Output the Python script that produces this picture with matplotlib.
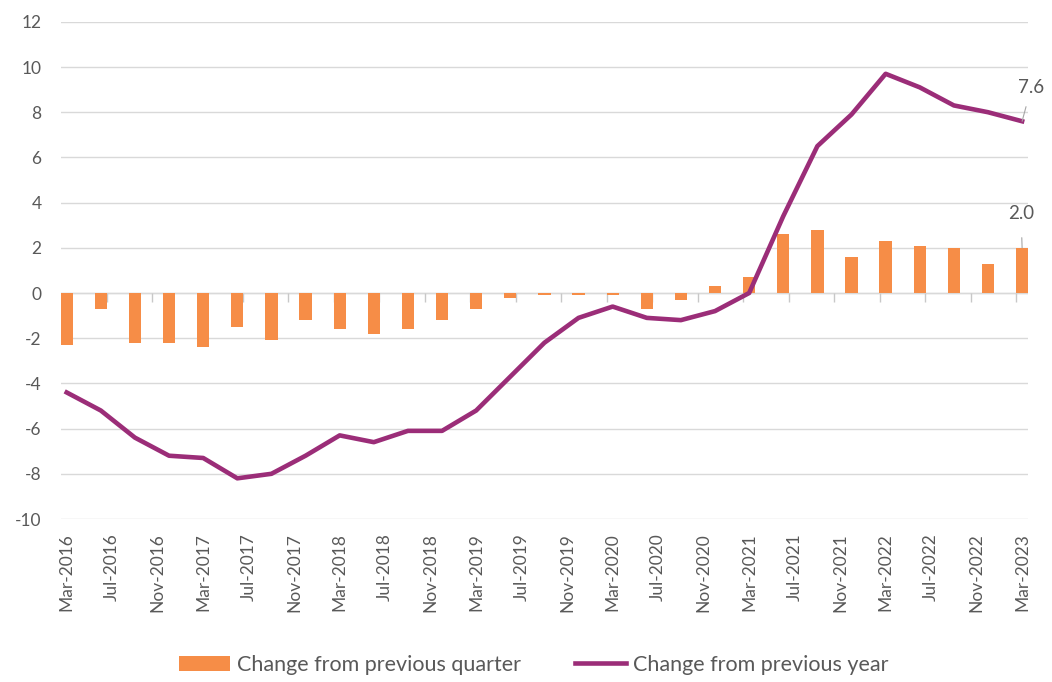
import numpy as np
import matplotlib.pyplot as plt

# Quarterly data, Mar-2016 .. Mar-2023
quarter_change = [-2.3, -0.7, -2.2, -2.2, -2.4, -1.5, -2.1, -1.2, -1.6, -1.8,
                  -1.6, -1.2, -0.7, -0.2, -0.1, -0.1, -0.1, -0.7, -0.3, 0.3,
                  0.7, 2.6, 2.8, 1.6, 2.3, 2.1, 2.0, 1.3, 2.0]
year_change = [-4.4, -5.2, -6.4, -7.2, -7.3, -8.2, -8.0, -7.2, -6.3, -6.6,
               -6.1, -6.1, -5.2, -3.7, -2.2, -1.1, -0.6, -1.1, -1.2, -0.8,
               0.0, 3.4, 6.5, 7.9, 9.7, 9.1, 8.3, 8.0, 7.6]
tick_labels = ["Mar-2016", "Jul-2016", "Nov-2016", "Mar-2017", "Jul-2017",
               "Nov-2017", "Mar-2018", "Jul-2018", "Nov-2018", "Mar-2019",
               "Jul-2019", "Nov-2019", "Mar-2020", "Jul-2020", "Nov-2020",
               "Mar-2021", "Jul-2021", "Nov-2021", "Mar-2022", "Jul-2022",
               "Nov-2022", "Mar-2023"]

ORANGE = "#F68D47"
PURPLE = "#9B2D78"
GRID = "#D9D9D9"
TEXT = "#595959"

plt.rcParams["font.family"] = ["Lato", "DejaVu Sans"]
plt.rcParams["axes.unicode_minus"] = False

# months since Mar-2016
x = np.arange(len(quarter_change)) * 3
label_pos = np.arange(len(tick_labels)) * 4

fig = plt.figure(figsize=(10.52, 6.82), dpi=100)
ax = fig.add_axes([0.058, 0.239, 0.919, 0.729])

bars = ax.bar(x, quarter_change, width=1.08, color=ORANGE, zorder=2)
line, = ax.plot(x, year_change, color=PURPLE, lw=3.3, zorder=3)

ax.set_xlim(-0.5, 84.5)
ax.set_ylim(-10, 12)
ax.set_yticks(np.arange(-10, 13, 2))
ax.yaxis.grid(True, color=GRID, lw=1, zorder=0)
ax.set_axisbelow(True)
for s in ax.spines.values():
    s.set_visible(False)

# zero axis line with tick marks between label cells
ax.axhline(0, color=GRID, lw=1, zorder=1)
ax.vlines(label_pos - 0.5, -0.4, 0, color="#C8C8C8", lw=1, zorder=1)

ax.set_xticks(label_pos)
ax.set_xticklabels(tick_labels, rotation=90)
ax.tick_params(axis="x", length=0, pad=10, labelsize=12.5, labelcolor=TEXT)
ax.tick_params(axis="y", length=0, pad=14, labelsize=12.5, labelcolor=TEXT)

# data labels for last points
ax.annotate(f"{year_change[-1]:.1f}", xy=(x[-1], year_change[-1]),
            xytext=(x[-1] + 0.8, year_change[-1] + 1.5), fontsize=13.5,
            color=TEXT, ha="center", va="center",
            arrowprops=dict(arrowstyle="-", color="#A6A6A6", lw=0.8,
                            shrinkA=6, shrinkB=0))
ax.annotate(f"{quarter_change[-1]:.1f}", xy=(x[-1], quarter_change[-1]),
            xytext=(x[-1] - 0.1, quarter_change[-1] + 1.5), fontsize=13.5,
            color=TEXT, ha="center", va="center",
            arrowprops=dict(arrowstyle="-", color="#A6A6A6", lw=0.8,
                            shrinkA=9, shrinkB=0))

fig.legend([bars, line], ["Change from previous quarter", "Change from previous year"],
           loc="center", bbox_to_anchor=(0.507, 0.025), ncol=2, frameon=False,
           fontsize=15.5, labelcolor=TEXT, handlelength=2.4, handleheight=0.75,
           handletextpad=0.3, columnspacing=2.5)

fig.savefig("out.png", dpi=100)
